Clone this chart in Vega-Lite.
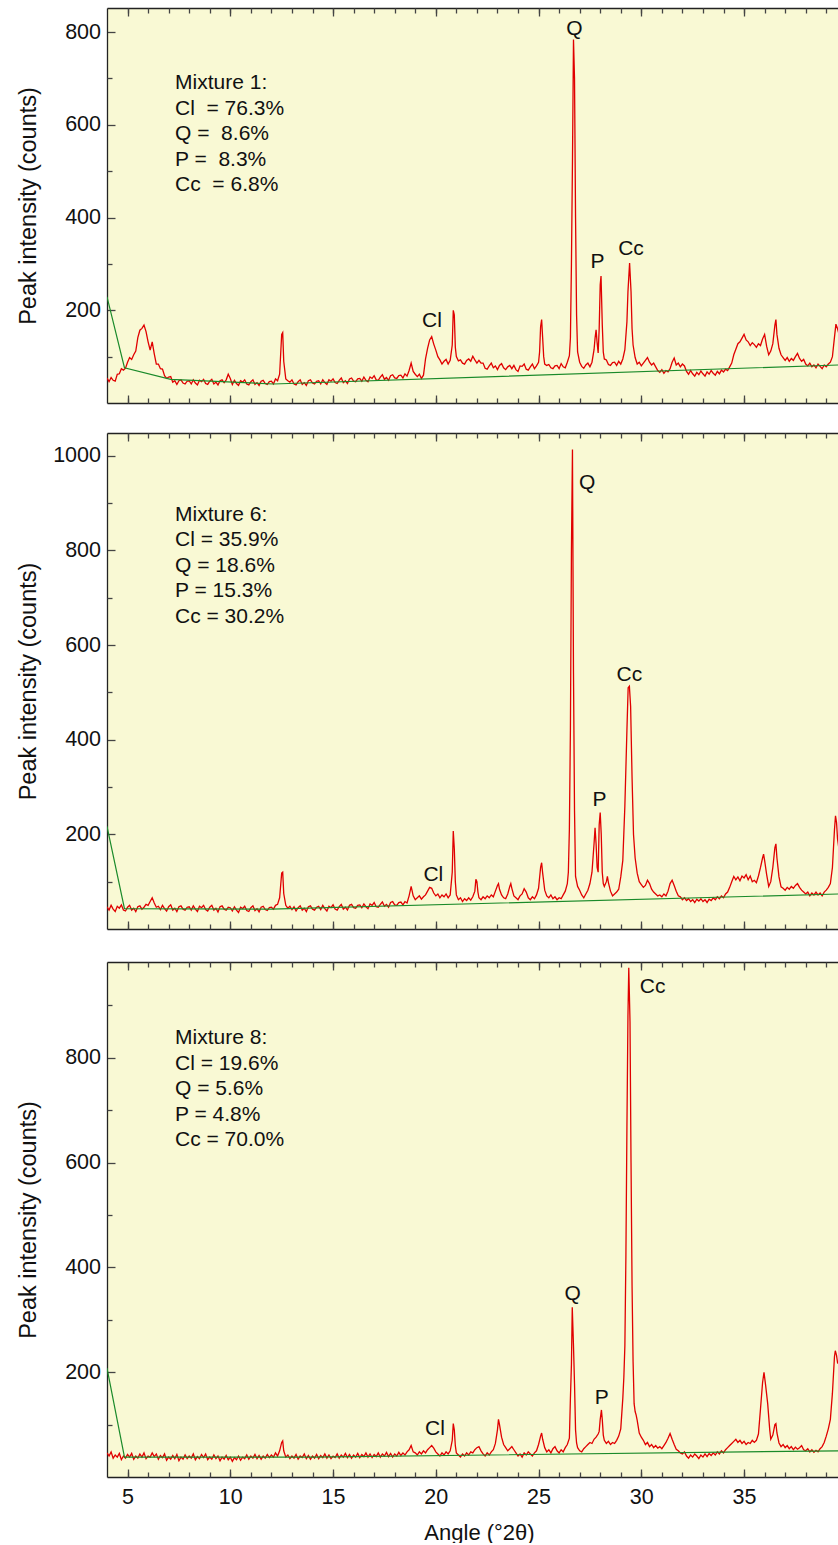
{
"$schema": "https://vega.github.io/schema/vega-lite/v6.json",
"padding": {"left": 16, "top": 7, "right": 0, "bottom": 0},
"background": "white",
"config": {
  "font": "Liberation Sans",
  "view": {"stroke": null, "fill": "#f9f9d4"},
  "axis": {"grid": false, "domainColor": "#222", "domainWidth": 1.3, "tickColor": "#444", "tickWidth": 1.3, "labelFontSize": 21.5, "labelColor": "#111", "labelFlush": false, "format": "d", "titleFontSize": 23.5, "titleFontWeight": "normal", "titleColor": "#111"},
  "text": {"color": "#111"}
},
"bounds": "flush",
"spacing": 30,
"vconcat": [
{
  "width": 732, "height": 395,
  "resolve": {"axis": {"x": "independent", "y": "independent"}},
  "layer": [
    {"data": {"name": "m1"}, "mark": {"type": "line", "color": "#e00000", "strokeWidth": 1.3, "clip": true},
     "encoding": {
       "x": {"field": "x", "type": "quantitative", "scale": {"domain": [4, 39.62], "nice": false, "zero": false}, "axis": {"orient": "bottom", "values": [5,10,15,20,25,30,35], "tickSize": -8, "labels": false, "title": null}},
       "y": {"field": "y", "type": "quantitative", "scale": {"domain": [0, 852], "nice": false, "zero": false}, "axis": {"orient": "left", "values": [200,400,600,800], "tickSize": -8, "labelPadding": 14.5, "title": "Peak intensity (counts)", "titleX": -72, "titleBaseline": "alphabetic"}}
     }},
    {"data": {"name": "b1"}, "mark": {"type": "line", "color": "#1a8a2a", "strokeWidth": 1.2, "clip": true},
     "encoding": {
       "x": {"field": "x", "type": "quantitative", "scale": {"domain": [4, 39.62], "nice": false, "zero": false}, "axis": {"orient": "bottom", "values": [5,6,7,8,9,10,11,12,13,14,15,16,17,18,19,20,21,22,23,24,25,26,27,28,29,30,31,32,33,34,35,36,37,38,39], "tickSize": -5, "labels": false, "domain": false, "title": null}},
       "y": {"field": "y", "type": "quantitative", "scale": {"domain": [0, 852], "nice": false, "zero": false}, "axis": {"orient": "left", "values": [100,300,500,700], "tickSize": -5, "labels": false, "domain": false, "title": null}}
     }},
    {"data": {"name": "t1"}, "mark": {"type": "text", "align": "left", "baseline": "alphabetic", "lineBreak": "\n", "lineHeight": 25.5, "fontSize": 21},
     "encoding": {
       "x": {"field": "x", "type": "quantitative", "scale": {"domain": [4, 39.62], "nice": false, "zero": false}, "axis": {"orient": "top", "values": [5,10,15,20,25,30,35], "tickSize": -8, "labels": false, "title": null}},
       "y": {"field": "y", "type": "quantitative", "scale": {"domain": [0, 852], "nice": false, "zero": false}, "axis": null},
       "text": {"field": "label", "type": "nominal"}
     }},
    {"data": {"name": "q1"}, "mark": {"type": "text", "align": "center", "baseline": "alphabetic", "fontSize": 21},
     "encoding": {
       "x": {"field": "x", "type": "quantitative", "scale": {"domain": [4, 39.62], "nice": false, "zero": false}, "axis": {"orient": "top", "values": [5,6,7,8,9,10,11,12,13,14,15,16,17,18,19,20,21,22,23,24,25,26,27,28,29,30,31,32,33,34,35,36,37,38,39], "tickSize": -5, "labels": false, "domain": false, "title": null}},
       "y": {"field": "y", "type": "quantitative", "scale": {"domain": [0, 852], "nice": false, "zero": false}, "axis": null},
       "text": {"field": "label", "type": "nominal"}
     }}
  ]
},
{
  "bounds": "flush",
  "spacing": 33,
  "vconcat": [
  {
    "width": 732, "height": 496,
    "resolve": {"axis": {"x": "independent", "y": "independent"}},
    "layer": [
      {"data": {"name": "m6"}, "mark": {"type": "line", "color": "#e00000", "strokeWidth": 1.3, "clip": true},
       "encoding": {
         "x": {"field": "x", "type": "quantitative", "scale": {"domain": [4, 39.62], "nice": false, "zero": false}, "axis": {"orient": "bottom", "values": [5,10,15,20,25,30,35], "tickSize": -8, "labels": false, "title": null}},
         "y": {"field": "y", "type": "quantitative", "scale": {"domain": [0, 1048], "nice": false, "zero": false}, "axis": {"orient": "left", "values": [200,400,600,800,1000], "tickSize": -8, "labelPadding": 14.5, "title": "Peak intensity (counts)", "titleX": -72, "titleBaseline": "alphabetic"}}
       }},
      {"data": {"name": "b6"}, "mark": {"type": "line", "color": "#1a8a2a", "strokeWidth": 1.2, "clip": true},
       "encoding": {
         "x": {"field": "x", "type": "quantitative", "scale": {"domain": [4, 39.62], "nice": false, "zero": false}, "axis": {"orient": "bottom", "values": [5,6,7,8,9,10,11,12,13,14,15,16,17,18,19,20,21,22,23,24,25,26,27,28,29,30,31,32,33,34,35,36,37,38,39], "tickSize": -5, "labels": false, "domain": false, "title": null}},
         "y": {"field": "y", "type": "quantitative", "scale": {"domain": [0, 1048], "nice": false, "zero": false}, "axis": {"orient": "left", "values": [100,300,500,700,900], "tickSize": -5, "labels": false, "domain": false, "title": null}}
       }},
      {"data": {"name": "t6"}, "mark": {"type": "text", "align": "left", "baseline": "alphabetic", "lineBreak": "\n", "lineHeight": 25.5, "fontSize": 21},
       "encoding": {
         "x": {"field": "x", "type": "quantitative", "scale": {"domain": [4, 39.62], "nice": false, "zero": false}, "axis": {"orient": "top", "values": [5,10,15,20,25,30,35], "tickSize": -8, "labels": false, "title": null}},
         "y": {"field": "y", "type": "quantitative", "scale": {"domain": [0, 1048], "nice": false, "zero": false}, "axis": null},
         "text": {"field": "label", "type": "nominal"}
       }},
      {"data": {"name": "q6"}, "mark": {"type": "text", "align": "center", "baseline": "alphabetic", "fontSize": 21},
       "encoding": {
         "x": {"field": "x", "type": "quantitative", "scale": {"domain": [4, 39.62], "nice": false, "zero": false}, "axis": {"orient": "top", "values": [5,6,7,8,9,10,11,12,13,14,15,16,17,18,19,20,21,22,23,24,25,26,27,28,29,30,31,32,33,34,35,36,37,38,39], "tickSize": -5, "labels": false, "domain": false, "title": null}},
         "y": {"field": "y", "type": "quantitative", "scale": {"domain": [0, 1048], "nice": false, "zero": false}, "axis": null},
         "text": {"field": "label", "type": "nominal"}
       }}
    ]
  },
  {
    "width": 732, "height": 515,
    "resolve": {"axis": {"x": "independent", "y": "independent"}},
    "layer": [
      {"data": {"name": "m8"}, "mark": {"type": "line", "color": "#e00000", "strokeWidth": 1.3, "clip": true},
       "encoding": {
         "x": {"field": "x", "type": "quantitative", "scale": {"domain": [4, 39.62], "nice": false, "zero": false}, "axis": {"orient": "bottom", "values": [5,10,15,20,25,30,35], "tickSize": -8, "labelPadding": 34, "labelBaseline": "alphabetic", "title": "Angle (°2θ)", "titleFontSize": 22, "titleX": 372, "titleY": 62, "titleBaseline": "alphabetic"}},
         "y": {"field": "y", "type": "quantitative", "scale": {"domain": [0, 983], "nice": false, "zero": false}, "axis": {"orient": "left", "values": [200,400,600,800], "tickSize": -8, "labelPadding": 14.5, "title": "Peak intensity (counts)", "titleX": -72, "titleBaseline": "alphabetic"}}
       }},
      {"data": {"name": "b8"}, "mark": {"type": "line", "color": "#1a8a2a", "strokeWidth": 1.2, "clip": true},
       "encoding": {
         "x": {"field": "x", "type": "quantitative", "scale": {"domain": [4, 39.62], "nice": false, "zero": false}, "axis": {"orient": "bottom", "values": [5,6,7,8,9,10,11,12,13,14,15,16,17,18,19,20,21,22,23,24,25,26,27,28,29,30,31,32,33,34,35,36,37,38,39], "tickSize": -5, "labels": false, "domain": false, "title": null}},
         "y": {"field": "y", "type": "quantitative", "scale": {"domain": [0, 983], "nice": false, "zero": false}, "axis": {"orient": "left", "values": [100,300,500,700,900], "tickSize": -5, "labels": false, "domain": false, "title": null}}
       }},
      {"data": {"name": "t8"}, "mark": {"type": "text", "align": "left", "baseline": "alphabetic", "lineBreak": "\n", "lineHeight": 25.5, "fontSize": 21},
       "encoding": {
         "x": {"field": "x", "type": "quantitative", "scale": {"domain": [4, 39.62], "nice": false, "zero": false}, "axis": {"orient": "top", "values": [5,10,15,20,25,30,35], "tickSize": -8, "labels": false, "title": null}},
         "y": {"field": "y", "type": "quantitative", "scale": {"domain": [0, 983], "nice": false, "zero": false}, "axis": null},
         "text": {"field": "label", "type": "nominal"}
       }},
      {"data": {"name": "q8"}, "mark": {"type": "text", "align": "center", "baseline": "alphabetic", "fontSize": 21},
       "encoding": {
         "x": {"field": "x", "type": "quantitative", "scale": {"domain": [4, 39.62], "nice": false, "zero": false}, "axis": {"orient": "top", "values": [5,6,7,8,9,10,11,12,13,14,15,16,17,18,19,20,21,22,23,24,25,26,27,28,29,30,31,32,33,34,35,36,37,38,39], "tickSize": -5, "labels": false, "domain": false, "title": null}},
         "y": {"field": "y", "type": "quantitative", "scale": {"domain": [0, 983], "nice": false, "zero": false}, "axis": null},
         "text": {"field": "label", "type": "nominal"}
       }}
    ]
  }
  ]
}
],
"datasets": {
"t1": [{"x": 7.31, "y": 677, "label": "Mixture 1:\nCl\u00a0 = 76.3%\nQ = \u00a08.6%\nP = \u00a08.3%\nCc\u00a0 = 6.8%"}],
"t6": [{"x": 7.31, "y": 863, "label": "Mixture 6:\nCl = 35.9%\nQ = 18.6%\nP = 15.3%\nCc = 30.2%"}],
"t8": [{"x": 7.31, "y": 826, "label": "Mixture 8:\nCl = 19.6%\nQ = 5.6%\nP = 4.8%\nCc = 70.0%"}],
"q1": [{"x": 26.74, "y": 794, "label": "Q"}, {"x": 27.87, "y": 292, "label": "P"}, {"x": 29.5, "y": 320, "label": "Cc"}, {"x": 19.81, "y": 165, "label": "Cl"}],
"q6": [{"x": 27.36, "y": 930, "label": "Q"}, {"x": 29.42, "y": 524, "label": "Cc"}, {"x": 27.96, "y": 259, "label": "P"}, {"x": 19.88, "y": 101, "label": "Cl"}],
"q8": [{"x": 30.55, "y": 924, "label": "Cc"}, {"x": 26.66, "y": 337, "label": "Q"}, {"x": 28.07, "y": 140, "label": "P"}, {"x": 19.96, "y": 80, "label": "Cl"}],
"b1": [{"x": 4, "y": 229}, {"x": 4.85, "y": 76}, {"x": 7.1, "y": 51}, {"x": 12.1, "y": 41}, {"x": 39.62, "y": 82}],
"b6": [{"x": 4, "y": 217}, {"x": 4.85, "y": 43}, {"x": 12, "y": 42}, {"x": 39.62, "y": 74}],
"b8": [{"x": 4, "y": 208}, {"x": 4.85, "y": 38}, {"x": 14, "y": 38}, {"x": 39.62, "y": 50}],
"m1": [
{"x":4,"y":54},{"x":4.1,"y":46},{"x":4.2,"y":55},{"x":4.3,"y":49},{"x":4.4,"y":47},{"x":4.5,"y":62},{"x":4.6,"y":63},{"x":4.7,"y":74},{"x":4.8,"y":71},{"x":4.9,"y":75},
{"x":5,"y":88},{"x":5.1,"y":98},{"x":5.2,"y":94},{"x":5.3,"y":104},{"x":5.4,"y":112},{"x":5.5,"y":141},{"x":5.6,"y":157},{"x":5.7,"y":161},{"x":5.8,"y":168},{"x":5.9,"y":154},
{"x":6,"y":132},{"x":6.1,"y":114},{"x":6.2,"y":132},{"x":6.3,"y":106},{"x":6.4,"y":84},{"x":6.5,"y":84},{"x":6.6,"y":74},{"x":6.7,"y":73},{"x":6.8,"y":59},{"x":6.9,"y":53},
{"x":7,"y":56},{"x":7.1,"y":57},{"x":7.2,"y":45},{"x":7.3,"y":48},{"x":7.4,"y":40},{"x":7.5,"y":48},{"x":7.6,"y":50},{"x":7.7,"y":43},{"x":7.8,"y":41},{"x":7.9,"y":47},
{"x":8,"y":48},{"x":8.1,"y":41},{"x":8.2,"y":50},{"x":8.3,"y":43},{"x":8.4,"y":39},{"x":8.5,"y":49},{"x":8.6,"y":46},{"x":8.7,"y":51},{"x":8.8,"y":42},{"x":8.9,"y":40},
{"x":9,"y":47},{"x":9.1,"y":51},{"x":9.2,"y":41},{"x":9.3,"y":45},{"x":9.4,"y":39},{"x":9.5,"y":48},{"x":9.6,"y":50},{"x":9.7,"y":44},{"x":9.8,"y":50},{"x":9.9,"y":62},
{"x":10,"y":53},{"x":10.1,"y":40},{"x":10.2,"y":49},{"x":10.3,"y":42},{"x":10.4,"y":38},{"x":10.5,"y":48},{"x":10.6,"y":45},{"x":10.7,"y":50},{"x":10.8,"y":41},{"x":10.9,"y":39},
{"x":11,"y":46},{"x":11.1,"y":50},{"x":11.2,"y":40},{"x":11.3,"y":44},{"x":11.4,"y":38},{"x":11.5,"y":47},{"x":11.6,"y":49},{"x":11.7,"y":42},{"x":11.8,"y":40},{"x":11.9,"y":46},
{"x":12,"y":47},{"x":12.1,"y":41},{"x":12.2,"y":52},{"x":12.3,"y":48},{"x":12.4,"y":62},{"x":12.5,"y":148},{"x":12.55,"y":152},{"x":12.6,"y":90},{"x":12.7,"y":52},{"x":12.8,"y":48},{"x":12.9,"y":45},
{"x":13,"y":50},{"x":13.1,"y":41},{"x":13.2,"y":39},{"x":13.3,"y":46},{"x":13.4,"y":50},{"x":13.5,"y":40},{"x":13.6,"y":44},{"x":13.7,"y":38},{"x":13.8,"y":48},{"x":13.9,"y":50},
{"x":14,"y":43},{"x":14.1,"y":41},{"x":14.2,"y":47},{"x":14.3,"y":48},{"x":14.4,"y":41},{"x":14.5,"y":50},{"x":14.6,"y":44},{"x":14.7,"y":40},{"x":14.8,"y":50},{"x":14.9,"y":47},
{"x":15,"y":52},{"x":15.1,"y":44},{"x":15.2,"y":42},{"x":15.3,"y":49},{"x":15.4,"y":54},{"x":15.5,"y":44},{"x":15.6,"y":48},{"x":15.7,"y":42},{"x":15.8,"y":52},{"x":15.9,"y":54},
{"x":16,"y":47},{"x":16.1,"y":46},{"x":16.2,"y":52},{"x":16.3,"y":53},{"x":16.4,"y":47},{"x":16.5,"y":56},{"x":16.6,"y":49},{"x":16.7,"y":46},{"x":16.8,"y":56},{"x":16.9,"y":53},
{"x":17,"y":59},{"x":17.1,"y":50},{"x":17.2,"y":49},{"x":17.3,"y":56},{"x":17.4,"y":61},{"x":17.5,"y":51},{"x":17.6,"y":55},{"x":17.7,"y":49},{"x":17.8,"y":59},{"x":17.9,"y":61},
{"x":18,"y":54},{"x":18.1,"y":53},{"x":18.2,"y":59},{"x":18.3,"y":60},{"x":18.4,"y":54},{"x":18.5,"y":63},{"x":18.6,"y":58},{"x":18.7,"y":70},{"x":18.8,"y":86},{"x":18.9,"y":68},
{"x":19,"y":62},{"x":19.1,"y":57},{"x":19.2,"y":62},{"x":19.3,"y":53},{"x":19.4,"y":60},{"x":19.5,"y":95},{"x":19.6,"y":118},{"x":19.7,"y":136},{"x":19.8,"y":143},{"x":19.9,"y":127},
{"x":20,"y":114},{"x":20.1,"y":100},{"x":20.2,"y":93},{"x":20.3,"y":84},{"x":20.4,"y":90},{"x":20.5,"y":94},{"x":20.6,"y":84},{"x":20.7,"y":92},{"x":20.8,"y":125},{"x":20.85,"y":200},{"x":20.9,"y":190},{"x":20.95,"y":120},
{"x":21,"y":100},{"x":21.1,"y":91},{"x":21.2,"y":93},{"x":21.3,"y":86},{"x":21.4,"y":84},{"x":21.5,"y":92},{"x":21.6,"y":95},{"x":21.7,"y":90},{"x":21.8,"y":101},{"x":21.9,"y":93},
{"x":22,"y":86},{"x":22.1,"y":92},{"x":22.2,"y":86},{"x":22.3,"y":86},{"x":22.4,"y":75},{"x":22.5,"y":73},{"x":22.6,"y":80},{"x":22.7,"y":86},{"x":22.8,"y":76},{"x":22.9,"y":80},
{"x":23,"y":72},{"x":23.1,"y":81},{"x":23.2,"y":85},{"x":23.3,"y":76},{"x":23.4,"y":72},{"x":23.5,"y":78},{"x":23.6,"y":81},{"x":23.7,"y":74},{"x":23.8,"y":81},{"x":23.9,"y":72},
{"x":24,"y":68},{"x":24.1,"y":80},{"x":24.2,"y":79},{"x":24.3,"y":84},{"x":24.4,"y":73},{"x":24.5,"y":71},{"x":24.6,"y":78},{"x":24.7,"y":84},{"x":24.8,"y":74},{"x":24.9,"y":80},
{"x":25,"y":88},{"x":25.05,"y":110},{"x":25.1,"y":165},{"x":25.15,"y":180},{"x":25.2,"y":140},{"x":25.25,"y":100},{"x":25.3,"y":84},{"x":25.4,"y":81},{"x":25.5,"y":83},{"x":25.6,"y":76},{"x":25.7,"y":74},{"x":25.8,"y":80},{"x":25.9,"y":81},
{"x":26,"y":74},{"x":26.1,"y":85},{"x":26.2,"y":78},{"x":26.3,"y":76},{"x":26.4,"y":88},{"x":26.5,"y":102},{"x":26.55,"y":140},{"x":26.6,"y":300},{"x":26.65,"y":520},{"x":26.7,"y":784},{"x":26.75,"y":700},{"x":26.8,"y":400},{"x":26.85,"y":190},{"x":26.9,"y":110},
{"x":27,"y":88},{"x":27.1,"y":79},{"x":27.2,"y":75},{"x":27.3,"y":82},{"x":27.4,"y":86},{"x":27.5,"y":78},{"x":27.6,"y":88},{"x":27.7,"y":115},{"x":27.75,"y":140},{"x":27.8,"y":158},{"x":27.85,"y":130},{"x":27.9,"y":108},{"x":27.95,"y":160},
{"x":28,"y":255},{"x":28.04,"y":274},{"x":28.1,"y":170},{"x":28.15,"y":110},{"x":28.2,"y":95},{"x":28.3,"y":93},{"x":28.4,"y":83},{"x":28.5,"y":81},{"x":28.6,"y":87},{"x":28.7,"y":88},{"x":28.8,"y":81},{"x":28.9,"y":90},
{"x":29,"y":84},{"x":29.1,"y":95},{"x":29.2,"y":115},{"x":29.3,"y":175},{"x":29.35,"y":240},{"x":29.43,"y":302},{"x":29.5,"y":240},{"x":29.55,"y":160},{"x":29.6,"y":125},{"x":29.7,"y":98},{"x":29.8,"y":84},{"x":29.9,"y":88},
{"x":30,"y":80},{"x":30.1,"y":86},{"x":30.2,"y":92},{"x":30.3,"y":98},{"x":30.4,"y":88},{"x":30.5,"y":82},{"x":30.6,"y":86},{"x":30.7,"y":78},{"x":30.8,"y":70},{"x":30.9,"y":66},
{"x":31,"y":72},{"x":31.1,"y":64},{"x":31.2,"y":70},{"x":31.3,"y":67},{"x":31.4,"y":74},{"x":31.5,"y":88},{"x":31.6,"y":97},{"x":31.7,"y":82},{"x":31.8,"y":86},{"x":31.9,"y":78},
{"x":32,"y":84},{"x":32.1,"y":80},{"x":32.2,"y":68},{"x":32.3,"y":62},{"x":32.4,"y":70},{"x":32.5,"y":63},{"x":32.6,"y":58},{"x":32.7,"y":66},{"x":32.8,"y":61},{"x":32.9,"y":69},
{"x":33,"y":63},{"x":33.1,"y":58},{"x":33.2,"y":67},{"x":33.3,"y":62},{"x":33.4,"y":70},{"x":33.5,"y":64},{"x":33.6,"y":60},{"x":33.7,"y":68},{"x":33.8,"y":63},{"x":33.9,"y":71},
{"x":34,"y":67},{"x":34.1,"y":73},{"x":34.2,"y":70},{"x":34.3,"y":78},{"x":34.4,"y":86},{"x":34.5,"y":104},{"x":34.6,"y":116},{"x":34.7,"y":128},{"x":34.8,"y":132},{"x":34.9,"y":140},
{"x":35,"y":148},{"x":35.1,"y":136},{"x":35.2,"y":132},{"x":35.3,"y":124},{"x":35.4,"y":130},{"x":35.5,"y":126},{"x":35.6,"y":120},{"x":35.7,"y":128},{"x":35.8,"y":124},{"x":35.9,"y":138},
{"x":36,"y":148},{"x":36.1,"y":122},{"x":36.2,"y":104},{"x":36.3,"y":112},{"x":36.4,"y":128},{"x":36.5,"y":168},{"x":36.55,"y":180},{"x":36.6,"y":148},{"x":36.7,"y":118},{"x":36.8,"y":104},{"x":36.9,"y":98},
{"x":37,"y":92},{"x":37.1,"y":98},{"x":37.2,"y":90},{"x":37.3,"y":96},{"x":37.4,"y":92},{"x":37.5,"y":100},{"x":37.6,"y":107},{"x":37.7,"y":96},{"x":37.8,"y":90},{"x":37.9,"y":94},
{"x":38,"y":84},{"x":38.1,"y":80},{"x":38.2,"y":86},{"x":38.3,"y":78},{"x":38.4,"y":82},{"x":38.5,"y":76},{"x":38.6,"y":84},{"x":38.7,"y":79},{"x":38.8,"y":74},{"x":38.9,"y":82},
{"x":39,"y":78},{"x":39.1,"y":84},{"x":39.2,"y":88},{"x":39.3,"y":100},{"x":39.4,"y":142},{"x":39.47,"y":170},{"x":39.55,"y":160},{"x":39.62,"y":148}
],
"m6": [
{"x":4,"y":47},{"x":4.1,"y":40},{"x":4.2,"y":50},{"x":4.3,"y":42},{"x":4.4,"y":37},{"x":4.5,"y":48},{"x":4.6,"y":44},{"x":4.7,"y":51},{"x":4.8,"y":40},{"x":4.9,"y":38},
{"x":5,"y":46},{"x":5.1,"y":50},{"x":5.2,"y":40},{"x":5.3,"y":44},{"x":5.4,"y":37},{"x":5.5,"y":47},{"x":5.6,"y":49},{"x":5.7,"y":42},{"x":5.8,"y":46},{"x":5.9,"y":52},
{"x":6,"y":50},{"x":6.1,"y":58},{"x":6.2,"y":66},{"x":6.3,"y":55},{"x":6.4,"y":46},{"x":6.5,"y":48},{"x":6.6,"y":41},{"x":6.7,"y":50},{"x":6.8,"y":43},{"x":6.9,"y":38},
{"x":7,"y":47},{"x":7.1,"y":51},{"x":7.2,"y":40},{"x":7.3,"y":44},{"x":7.4,"y":37},{"x":7.5,"y":47},{"x":7.6,"y":49},{"x":7.7,"y":42},{"x":7.8,"y":40},{"x":7.9,"y":46},
{"x":8,"y":47},{"x":8.1,"y":40},{"x":8.2,"y":49},{"x":8.3,"y":42},{"x":8.4,"y":37},{"x":8.5,"y":48},{"x":8.6,"y":45},{"x":8.7,"y":50},{"x":8.8,"y":41},{"x":8.9,"y":38},
{"x":9,"y":46},{"x":9.1,"y":50},{"x":9.2,"y":40},{"x":9.3,"y":44},{"x":9.4,"y":36},{"x":9.5,"y":47},{"x":9.6,"y":49},{"x":9.7,"y":42},{"x":9.8,"y":40},{"x":9.9,"y":46},
{"x":10,"y":45},{"x":10.1,"y":38},{"x":10.2,"y":47},{"x":10.3,"y":40},{"x":10.4,"y":35},{"x":10.5,"y":46},{"x":10.6,"y":43},{"x":10.7,"y":48},{"x":10.8,"y":39},{"x":10.9,"y":37},
{"x":11,"y":45},{"x":11.1,"y":49},{"x":11.2,"y":39},{"x":11.3,"y":43},{"x":11.4,"y":36},{"x":11.5,"y":46},{"x":11.6,"y":48},{"x":11.7,"y":41},{"x":11.8,"y":39},{"x":11.9,"y":45},
{"x":12,"y":46},{"x":12.1,"y":42},{"x":12.2,"y":50},{"x":12.3,"y":52},{"x":12.4,"y":66},{"x":12.5,"y":118},{"x":12.55,"y":120},{"x":12.6,"y":75},{"x":12.7,"y":50},{"x":12.8,"y":44},{"x":12.9,"y":48},
{"x":13,"y":41},{"x":13.1,"y":47},{"x":13.2,"y":38},{"x":13.3,"y":45},{"x":13.4,"y":49},{"x":13.5,"y":40},{"x":13.6,"y":44},{"x":13.7,"y":37},{"x":13.8,"y":47},{"x":13.9,"y":49},
{"x":14,"y":42},{"x":14.1,"y":40},{"x":14.2,"y":46},{"x":14.3,"y":48},{"x":14.4,"y":41},{"x":14.5,"y":50},{"x":14.6,"y":43},{"x":14.7,"y":38},{"x":14.8,"y":48},{"x":14.9,"y":45},
{"x":15,"y":51},{"x":15.1,"y":42},{"x":15.2,"y":40},{"x":15.3,"y":47},{"x":15.4,"y":52},{"x":15.5,"y":42},{"x":15.6,"y":46},{"x":15.7,"y":40},{"x":15.8,"y":50},{"x":15.9,"y":52},
{"x":16,"y":45},{"x":16.1,"y":44},{"x":16.2,"y":50},{"x":16.3,"y":51},{"x":16.4,"y":45},{"x":16.5,"y":53},{"x":16.6,"y":47},{"x":16.7,"y":43},{"x":16.8,"y":53},{"x":16.9,"y":50},
{"x":17,"y":56},{"x":17.1,"y":47},{"x":17.2,"y":46},{"x":17.3,"y":52},{"x":17.4,"y":57},{"x":17.5,"y":48},{"x":17.6,"y":52},{"x":17.7,"y":46},{"x":17.8,"y":56},{"x":17.9,"y":58},
{"x":18,"y":51},{"x":18.1,"y":50},{"x":18.2,"y":56},{"x":18.3,"y":57},{"x":18.4,"y":51},{"x":18.5,"y":58},{"x":18.6,"y":55},{"x":18.7,"y":70},{"x":18.8,"y":90},{"x":18.9,"y":70},
{"x":19,"y":62},{"x":19.1,"y":66},{"x":19.2,"y":70},{"x":19.3,"y":63},{"x":19.4,"y":68},{"x":19.5,"y":72},{"x":19.6,"y":80},{"x":19.7,"y":88},{"x":19.8,"y":86},{"x":19.9,"y":76},
{"x":20,"y":70},{"x":20.1,"y":74},{"x":20.2,"y":66},{"x":20.3,"y":72},{"x":20.4,"y":68},{"x":20.5,"y":74},{"x":20.6,"y":66},{"x":20.7,"y":72},{"x":20.8,"y":120},{"x":20.85,"y":207},{"x":20.9,"y":170},{"x":20.95,"y":100},
{"x":21,"y":72},{"x":21.1,"y":62},{"x":21.2,"y":66},{"x":21.3,"y":58},{"x":21.4,"y":64},{"x":21.5,"y":60},{"x":21.6,"y":66},{"x":21.7,"y":61},{"x":21.8,"y":68},{"x":21.9,"y":80},{"x":21.95,"y":105},
{"x":22,"y":100},{"x":22.05,"y":78},{"x":22.1,"y":66},{"x":22.2,"y":62},{"x":22.3,"y":68},{"x":22.4,"y":64},{"x":22.5,"y":70},{"x":22.6,"y":66},{"x":22.7,"y":72},{"x":22.8,"y":68},{"x":22.9,"y":80},
{"x":23,"y":92},{"x":23.05,"y":96},{"x":23.1,"y":84},{"x":23.2,"y":72},{"x":23.3,"y":66},{"x":23.4,"y":64},{"x":23.5,"y":74},{"x":23.6,"y":90},{"x":23.65,"y":96},{"x":23.7,"y":86},{"x":23.8,"y":70},{"x":23.9,"y":66},
{"x":24,"y":62},{"x":24.1,"y":70},{"x":24.2,"y":74},{"x":24.3,"y":85},{"x":24.4,"y":78},{"x":24.5,"y":66},{"x":24.6,"y":62},{"x":24.7,"y":68},{"x":24.8,"y":64},{"x":24.9,"y":72},
{"x":25,"y":86},{"x":25.1,"y":130},{"x":25.15,"y":140},{"x":25.2,"y":118},{"x":25.3,"y":82},{"x":25.4,"y":70},{"x":25.5,"y":66},{"x":25.6,"y":72},{"x":25.7,"y":64},{"x":25.8,"y":68},{"x":25.9,"y":62},
{"x":26,"y":66},{"x":26.1,"y":64},{"x":26.2,"y":72},{"x":26.3,"y":80},{"x":26.4,"y":96},{"x":26.45,"y":120},{"x":26.5,"y":211},{"x":26.55,"y":420},{"x":26.6,"y":800},{"x":26.65,"y":1013},{"x":26.7,"y":540},{"x":26.75,"y":250},{"x":26.8,"y":111},{"x":26.9,"y":90},
{"x":27,"y":82},{"x":27.1,"y":72},{"x":27.2,"y":66},{"x":27.3,"y":74},{"x":27.4,"y":82},{"x":27.5,"y":96},{"x":27.6,"y":120},{"x":27.7,"y":180},{"x":27.75,"y":214},{"x":27.8,"y":180},{"x":27.85,"y":130},{"x":27.9,"y":120},{"x":27.95,"y":220},
{"x":28,"y":246},{"x":28.05,"y":200},{"x":28.1,"y":120},{"x":28.15,"y":96},{"x":28.2,"y":90},{"x":28.3,"y":100},{"x":28.35,"y":111},{"x":28.4,"y":98},{"x":28.5,"y":80},{"x":28.6,"y":70},{"x":28.7,"y":74},{"x":28.8,"y":78},{"x":28.9,"y":84},
{"x":29,"y":110},{"x":29.1,"y":145},{"x":29.2,"y":260},{"x":29.3,"y":420},{"x":29.36,"y":510},{"x":29.42,"y":513},{"x":29.48,"y":470},{"x":29.55,"y":320},{"x":29.62,"y":200},{"x":29.7,"y":150},{"x":29.8,"y":118},{"x":29.9,"y":100},
{"x":30,"y":94},{"x":30.1,"y":88},{"x":30.2,"y":92},{"x":30.3,"y":103},{"x":30.4,"y":96},{"x":30.5,"y":84},{"x":30.6,"y":78},{"x":30.7,"y":74},{"x":30.8,"y":70},{"x":30.9,"y":72},
{"x":31,"y":68},{"x":31.1,"y":74},{"x":31.2,"y":70},{"x":31.3,"y":80},{"x":31.4,"y":96},{"x":31.5,"y":103},{"x":31.6,"y":92},{"x":31.7,"y":80},{"x":31.8,"y":70},{"x":31.9,"y":68},
{"x":32,"y":62},{"x":32.1,"y":66},{"x":32.2,"y":60},{"x":32.3,"y":64},{"x":32.4,"y":58},{"x":32.5,"y":62},{"x":32.6,"y":56},{"x":32.7,"y":63},{"x":32.8,"y":59},{"x":32.9,"y":64},
{"x":33,"y":58},{"x":33.1,"y":62},{"x":33.2,"y":56},{"x":33.3,"y":63},{"x":33.4,"y":60},{"x":33.5,"y":66},{"x":33.6,"y":62},{"x":33.7,"y":68},{"x":33.8,"y":64},{"x":33.9,"y":70},
{"x":34,"y":66},{"x":34.1,"y":74},{"x":34.2,"y":78},{"x":34.3,"y":88},{"x":34.4,"y":100},{"x":34.5,"y":111},{"x":34.6,"y":104},{"x":34.7,"y":110},{"x":34.8,"y":102},{"x":34.9,"y":112},
{"x":35,"y":108},{"x":35.1,"y":115},{"x":35.2,"y":104},{"x":35.3,"y":112},{"x":35.4,"y":100},{"x":35.5,"y":103},{"x":35.6,"y":98},{"x":35.7,"y":112},{"x":35.8,"y":130},{"x":35.9,"y":150},{"x":35.95,"y":158},
{"x":36,"y":145},{"x":36.1,"y":115},{"x":36.2,"y":90},{"x":36.3,"y":100},{"x":36.4,"y":130},{"x":36.5,"y":172},{"x":36.55,"y":180},{"x":36.6,"y":150},{"x":36.7,"y":110},{"x":36.8,"y":89},{"x":36.9,"y":86},
{"x":37,"y":82},{"x":37.1,"y":88},{"x":37.2,"y":84},{"x":37.3,"y":90},{"x":37.4,"y":86},{"x":37.5,"y":92},{"x":37.6,"y":96},{"x":37.7,"y":88},{"x":37.8,"y":82},{"x":37.9,"y":78},
{"x":38,"y":74},{"x":38.1,"y":78},{"x":38.2,"y":70},{"x":38.3,"y":76},{"x":38.4,"y":72},{"x":38.5,"y":78},{"x":38.6,"y":72},{"x":38.7,"y":76},{"x":38.8,"y":70},{"x":38.9,"y":78},
{"x":39,"y":82},{"x":39.1,"y":88},{"x":39.2,"y":96},{"x":39.3,"y":130},{"x":39.4,"y":210},{"x":39.45,"y":239},{"x":39.5,"y":225},{"x":39.55,"y":190},{"x":39.62,"y":169}
],
"m8": [
{"x":4,"y":46},{"x":4.1,"y":40},{"x":4.2,"y":48},{"x":4.3,"y":36},{"x":4.4,"y":42},{"x":4.5,"y":38},{"x":4.6,"y":45},{"x":4.7,"y":33},{"x":4.8,"y":40},{"x":4.9,"y":36},
{"x":5,"y":43},{"x":5.1,"y":38},{"x":5.2,"y":45},{"x":5.3,"y":34},{"x":5.4,"y":40},{"x":5.5,"y":36},{"x":5.6,"y":44},{"x":5.7,"y":38},{"x":5.8,"y":46},{"x":5.9,"y":35},
{"x":6,"y":40},{"x":6.1,"y":38},{"x":6.2,"y":46},{"x":6.3,"y":39},{"x":6.4,"y":44},{"x":6.5,"y":34},{"x":6.6,"y":41},{"x":6.7,"y":37},{"x":6.8,"y":44},{"x":6.9,"y":32},
{"x":7,"y":38},{"x":7.1,"y":34},{"x":7.2,"y":41},{"x":7.3,"y":35},{"x":7.4,"y":43},{"x":7.5,"y":31},{"x":7.6,"y":38},{"x":7.7,"y":34},{"x":7.8,"y":42},{"x":7.9,"y":35},
{"x":8,"y":40},{"x":8.1,"y":36},{"x":8.2,"y":44},{"x":8.3,"y":33},{"x":8.4,"y":39},{"x":8.5,"y":35},{"x":8.6,"y":43},{"x":8.7,"y":37},{"x":8.8,"y":44},{"x":8.9,"y":33},
{"x":9,"y":38},{"x":9.1,"y":34},{"x":9.2,"y":42},{"x":9.3,"y":35},{"x":9.4,"y":40},{"x":9.5,"y":31},{"x":9.6,"y":38},{"x":9.7,"y":34},{"x":9.8,"y":41},{"x":9.9,"y":33},
{"x":10,"y":38},{"x":10.1,"y":30},{"x":10.2,"y":37},{"x":10.3,"y":33},{"x":10.4,"y":40},{"x":10.5,"y":32},{"x":10.6,"y":38},{"x":10.7,"y":35},{"x":10.8,"y":42},{"x":10.9,"y":34},
{"x":11,"y":40},{"x":11.1,"y":36},{"x":11.2,"y":43},{"x":11.3,"y":35},{"x":11.4,"y":41},{"x":11.5,"y":34},{"x":11.6,"y":40},{"x":11.7,"y":36},{"x":11.8,"y":43},{"x":11.9,"y":37},
{"x":12,"y":42},{"x":12.1,"y":38},{"x":12.2,"y":46},{"x":12.3,"y":40},{"x":12.4,"y":50},{"x":12.5,"y":66},{"x":12.55,"y":69},{"x":12.6,"y":50},{"x":12.7,"y":38},{"x":12.8,"y":42},{"x":12.9,"y":35},
{"x":13,"y":40},{"x":13.1,"y":36},{"x":13.2,"y":43},{"x":13.3,"y":34},{"x":13.4,"y":40},{"x":13.5,"y":37},{"x":13.6,"y":44},{"x":13.7,"y":35},{"x":13.8,"y":41},{"x":13.9,"y":34},
{"x":14,"y":40},{"x":14.1,"y":36},{"x":14.2,"y":43},{"x":14.3,"y":35},{"x":14.4,"y":41},{"x":14.5,"y":37},{"x":14.6,"y":44},{"x":14.7,"y":36},{"x":14.8,"y":42},{"x":14.9,"y":35},
{"x":15,"y":40},{"x":15.1,"y":37},{"x":15.2,"y":44},{"x":15.3,"y":36},{"x":15.4,"y":42},{"x":15.5,"y":38},{"x":15.6,"y":45},{"x":15.7,"y":37},{"x":15.8,"y":43},{"x":15.9,"y":36},
{"x":16,"y":42},{"x":16.1,"y":38},{"x":16.2,"y":45},{"x":16.3,"y":37},{"x":16.4,"y":43},{"x":16.5,"y":39},{"x":16.6,"y":46},{"x":16.7,"y":38},{"x":16.8,"y":44},{"x":16.9,"y":37},
{"x":17,"y":43},{"x":17.1,"y":39},{"x":17.2,"y":46},{"x":17.3,"y":38},{"x":17.4,"y":44},{"x":17.5,"y":40},{"x":17.6,"y":47},{"x":17.7,"y":39},{"x":17.8,"y":45},{"x":17.9,"y":38},
{"x":18,"y":44},{"x":18.1,"y":40},{"x":18.2,"y":47},{"x":18.3,"y":41},{"x":18.4,"y":46},{"x":18.5,"y":42},{"x":18.6,"y":48},{"x":18.7,"y":52},{"x":18.8,"y":60},{"x":18.9,"y":48},
{"x":19,"y":46},{"x":19.1,"y":42},{"x":19.2,"y":48},{"x":19.3,"y":44},{"x":19.4,"y":50},{"x":19.5,"y":46},{"x":19.6,"y":52},{"x":19.7,"y":56},{"x":19.8,"y":60},{"x":19.9,"y":55},
{"x":20,"y":48},{"x":20.1,"y":44},{"x":20.2,"y":40},{"x":20.3,"y":46},{"x":20.4,"y":42},{"x":20.5,"y":48},{"x":20.6,"y":44},{"x":20.7,"y":50},{"x":20.8,"y":70},{"x":20.85,"y":102},{"x":20.9,"y":90},{"x":20.95,"y":60},
{"x":21,"y":46},{"x":21.1,"y":42},{"x":21.2,"y":38},{"x":21.3,"y":44},{"x":21.4,"y":40},{"x":21.5,"y":46},{"x":21.6,"y":42},{"x":21.7,"y":48},{"x":21.8,"y":46},{"x":21.9,"y":52},
{"x":22,"y":56},{"x":22.1,"y":58},{"x":22.2,"y":50},{"x":22.3,"y":44},{"x":22.4,"y":40},{"x":22.5,"y":46},{"x":22.6,"y":42},{"x":22.7,"y":48},{"x":22.8,"y":52},{"x":22.9,"y":64},
{"x":23,"y":90},{"x":23.05,"y":110},{"x":23.1,"y":100},{"x":23.2,"y":76},{"x":23.3,"y":62},{"x":23.4,"y":56},{"x":23.5,"y":50},{"x":23.6,"y":54},{"x":23.7,"y":58},{"x":23.8,"y":52},{"x":23.9,"y":46},
{"x":24,"y":40},{"x":24.1,"y":44},{"x":24.2,"y":38},{"x":24.3,"y":46},{"x":24.4,"y":42},{"x":24.5,"y":48},{"x":24.6,"y":44},{"x":24.7,"y":40},{"x":24.8,"y":46},{"x":24.9,"y":50},
{"x":25,"y":62},{"x":25.1,"y":78},{"x":25.15,"y":84},{"x":25.2,"y":72},{"x":25.3,"y":56},{"x":25.4,"y":48},{"x":25.5,"y":52},{"x":25.6,"y":46},{"x":25.7,"y":54},{"x":25.8,"y":58},{"x":25.9,"y":50},
{"x":26,"y":46},{"x":26.1,"y":52},{"x":26.2,"y":48},{"x":26.3,"y":56},{"x":26.4,"y":62},{"x":26.5,"y":74},{"x":26.55,"y":150},{"x":26.6,"y":215},{"x":26.64,"y":324},{"x":26.7,"y":250},{"x":26.75,"y":178},{"x":26.8,"y":90},{"x":26.85,"y":65},{"x":26.9,"y":56},
{"x":27,"y":50},{"x":27.1,"y":48},{"x":27.2,"y":54},{"x":27.3,"y":58},{"x":27.4,"y":62},{"x":27.5,"y":66},{"x":27.6,"y":64},{"x":27.7,"y":72},{"x":27.8,"y":76},{"x":27.9,"y":82},{"x":27.95,"y":87},
{"x":28,"y":110},{"x":28.06,"y":128},{"x":28.1,"y":110},{"x":28.15,"y":80},{"x":28.2,"y":70},{"x":28.3,"y":64},{"x":28.4,"y":68},{"x":28.5,"y":62},{"x":28.6,"y":66},{"x":28.7,"y":64},{"x":28.8,"y":70},{"x":28.9,"y":78},
{"x":29,"y":92},{"x":29.1,"y":150},{"x":29.15,"y":190},{"x":29.2,"y":250},{"x":29.25,"y":420},{"x":29.3,"y":666},{"x":29.35,"y":880},{"x":29.39,"y":972},{"x":29.45,"y":870},{"x":29.5,"y":600},{"x":29.55,"y":365},{"x":29.6,"y":220},{"x":29.65,"y":140},{"x":29.7,"y":125},{"x":29.75,"y":118},{"x":29.8,"y":108},{"x":29.9,"y":84},
{"x":30,"y":76},{"x":30.1,"y":70},{"x":30.2,"y":62},{"x":30.3,"y":66},{"x":30.4,"y":58},{"x":30.5,"y":62},{"x":30.6,"y":56},{"x":30.7,"y":60},{"x":30.8,"y":55},{"x":30.9,"y":58},
{"x":31,"y":54},{"x":31.1,"y":60},{"x":31.2,"y":66},{"x":31.3,"y":74},{"x":31.4,"y":83},{"x":31.5,"y":72},{"x":31.6,"y":62},{"x":31.7,"y":53},{"x":31.8,"y":50},{"x":31.9,"y":46},
{"x":32,"y":44},{"x":32.1,"y":48},{"x":32.2,"y":40},{"x":32.3,"y":36},{"x":32.4,"y":42},{"x":32.5,"y":38},{"x":32.6,"y":44},{"x":32.7,"y":40},{"x":32.8,"y":35},{"x":32.9,"y":42},
{"x":33,"y":38},{"x":33.1,"y":44},{"x":33.2,"y":39},{"x":33.3,"y":45},{"x":33.4,"y":41},{"x":33.5,"y":46},{"x":33.6,"y":42},{"x":33.7,"y":48},{"x":33.8,"y":44},{"x":33.9,"y":50},
{"x":34,"y":46},{"x":34.1,"y":52},{"x":34.2,"y":56},{"x":34.3,"y":60},{"x":34.4,"y":64},{"x":34.5,"y":68},{"x":34.6,"y":72},{"x":34.7,"y":66},{"x":34.8,"y":70},{"x":34.9,"y":64},
{"x":35,"y":68},{"x":35.1,"y":62},{"x":35.2,"y":66},{"x":35.3,"y":64},{"x":35.4,"y":70},{"x":35.5,"y":66},{"x":35.6,"y":70},{"x":35.7,"y":82},{"x":35.8,"y":130},{"x":35.9,"y":180},{"x":35.97,"y":200},
{"x":36.05,"y":175},{"x":36.15,"y":140},{"x":36.25,"y":90},{"x":36.3,"y":72},{"x":36.4,"y":80},{"x":36.5,"y":100},{"x":36.55,"y":102},{"x":36.6,"y":84},{"x":36.7,"y":65},{"x":36.8,"y":58},{"x":36.9,"y":62},
{"x":37,"y":56},{"x":37.1,"y":60},{"x":37.2,"y":54},{"x":37.3,"y":58},{"x":37.4,"y":52},{"x":37.5,"y":57},{"x":37.6,"y":53},{"x":37.7,"y":56},{"x":37.8,"y":60},{"x":37.9,"y":52},
{"x":38,"y":50},{"x":38.1,"y":54},{"x":38.2,"y":48},{"x":38.3,"y":52},{"x":38.4,"y":47},{"x":38.5,"y":51},{"x":38.6,"y":48},{"x":38.7,"y":54},{"x":38.8,"y":58},{"x":38.9,"y":66},
{"x":39,"y":78},{"x":39.1,"y":92},{"x":39.2,"y":110},{"x":39.3,"y":160},{"x":39.4,"y":230},{"x":39.44,"y":241},{"x":39.5,"y":232},{"x":39.55,"y":218},{"x":39.62,"y":215}
]
}
}
